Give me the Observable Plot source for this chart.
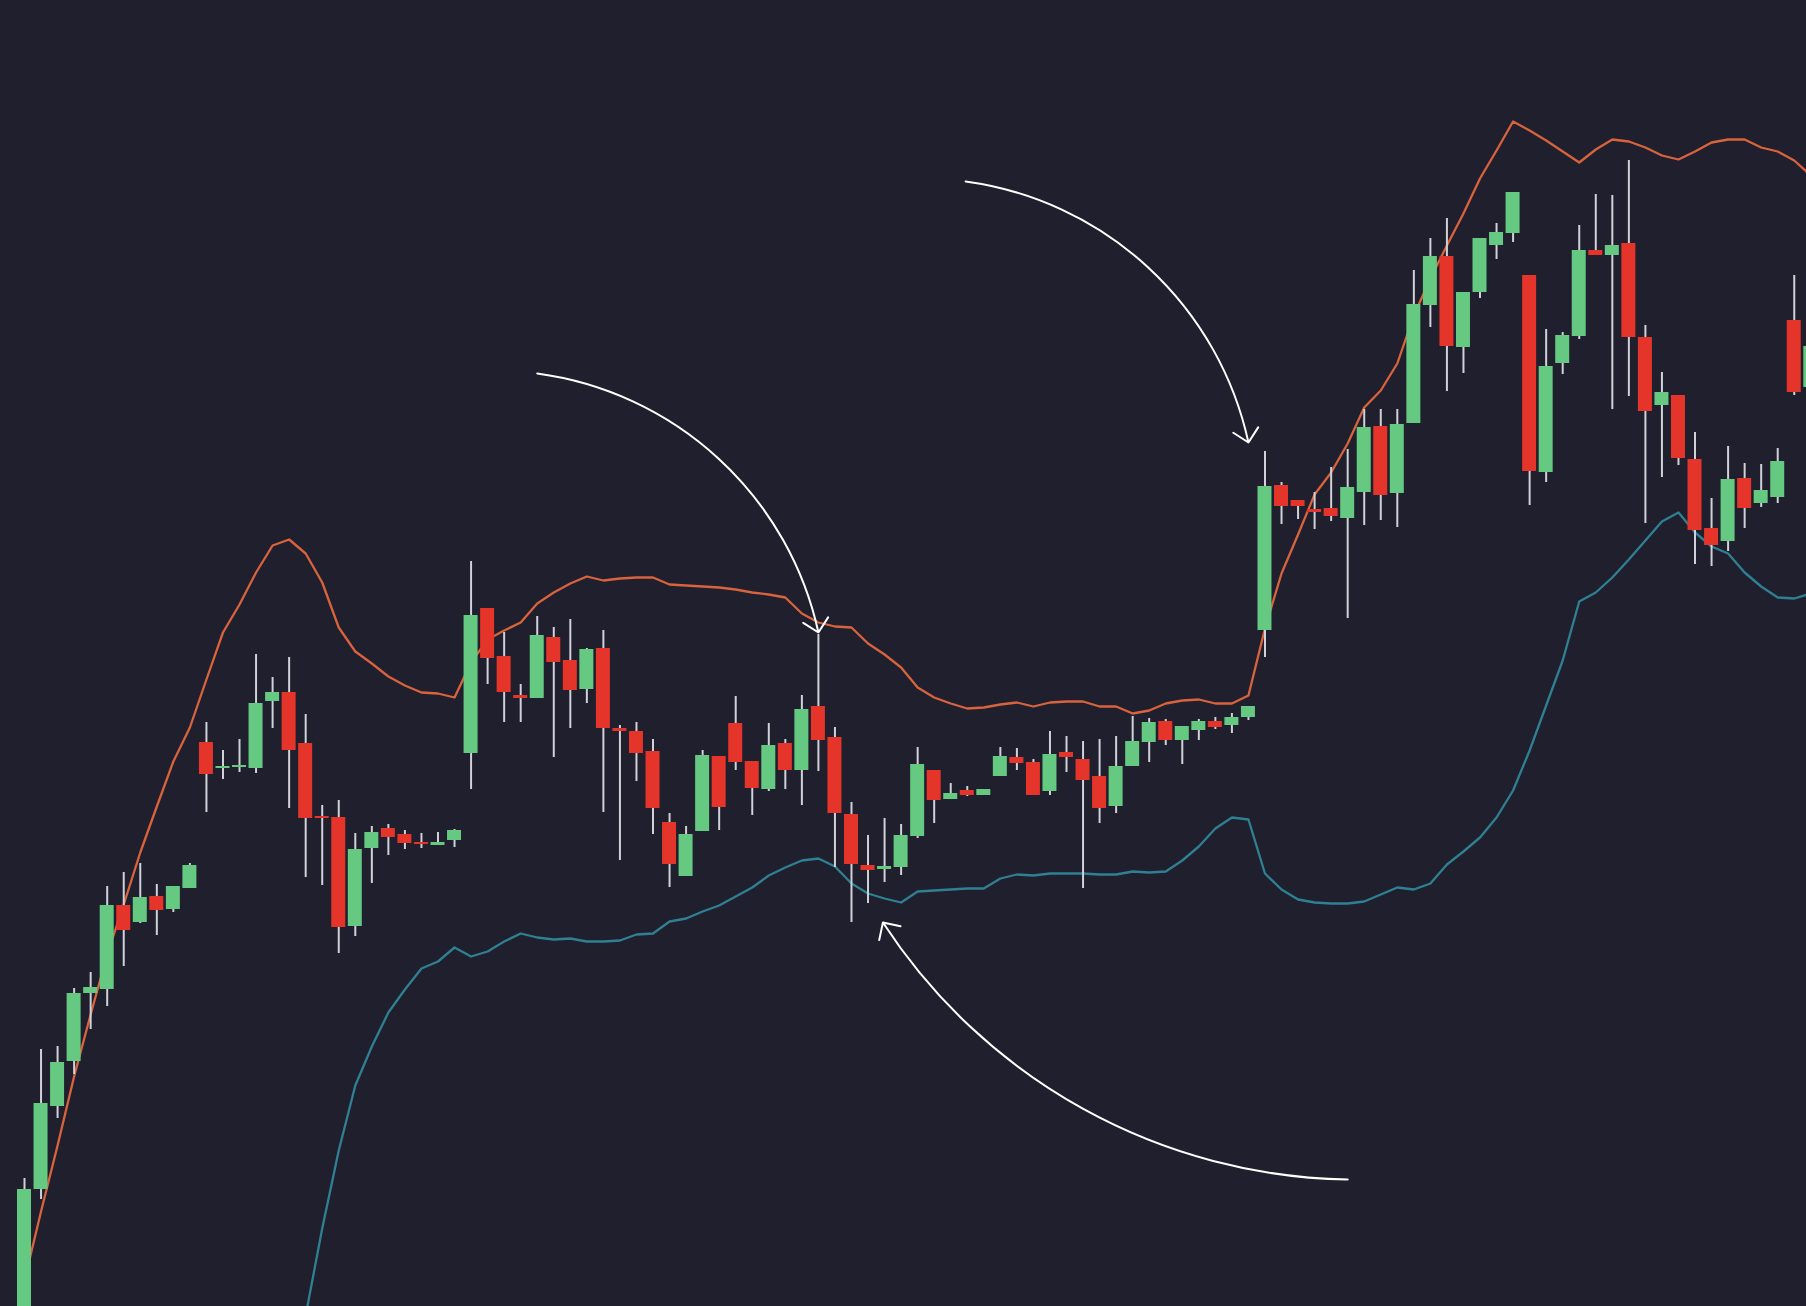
<!DOCTYPE html>
<html><head><meta charset="utf-8">
<script src="https://cdn.jsdelivr.net/npm/d3@7"></script>
<script src="https://cdn.jsdelivr.net/npm/@observablehq/plot@0.6"></script>
<style>html,body{margin:0;padding:0;background:#1f1f2d;overflow:hidden}#chart svg{display:block}</style>
</head><body><div id="chart"></div>
<script>
// Candle OHLC values (price units), one per period
const openP = [-1.0,11.7,20.0,24.5,31.3,31.7,40.1,38.4,41.0,39.7,41.8,56.4,53.8,53.9,53.8,60.5,61.4,56.3,49.0,48.9,
38.0,45.8,47.8,47.2,46.4,46.1,46.6,55.3,69.8,65.0,61.1,60.8,66.9,64.6,61.7,65.8,57.8,57.5,55.5,48.4,
43.0,47.5,55.0,58.3,54.5,51.7,56.3,53.6,60.0,56.9,49.2,44.1,43.7,43.9,47.0,53.6,50.7,51.6,51.1,53.0,
54.9,54.4,51.5,55.4,54.7,53.0,50.0,54.0,56.4,58.5,56.6,57.6,58.5,58.1,58.9,67.6,82.1,80.6,79.7,79.8,
78.8,81.4,88.0,81.3,88.3,100.1,105.0,95.9,101.4,106.1,107.3,103.1,83.4,94.3,97.0,105.6,105.1,106.3,96.9,90.1,
91.1,84.7,77.8,76.5,82.8,80.3,80.9,98.6,91.9];
const highP = [12.8,25.7,26.0,31.8,33.4,42.0,43.4,44.3,42.2,42.0,44.3,58.4,55.6,56.7,65.2,62.9,64.9,59.2,50.1,50.6,
47.3,48.0,48.2,47.6,47.3,47.4,47.7,74.5,69.8,67.4,62.2,69.0,67.9,68.7,65.8,67.6,58.1,58.4,56.7,49.3,
48.0,55.6,55.0,61.0,54.5,58.3,56.7,61.1,67.2,57.9,50.4,47.1,48.8,48.2,55.9,53.6,52.3,52.0,51.7,55.9,
55.8,54.7,57.5,57.0,56.5,56.7,57.0,59.0,58.8,58.7,58.0,58.7,58.9,59.3,60.0,85.5,82.4,80.6,81.4,83.9,
85.7,89.7,89.7,89.7,103.6,106.8,108.8,101.4,106.8,108.3,111.4,103.1,97.7,97.4,108.1,111.2,111.1,114.6,98.1,93.4,
91.1,87.4,80.8,86.0,84.3,84.2,85.8,103.1,96.5];
const lowP = [-2.0,10.7,18.8,23.2,27.7,30.0,34.0,38.3,37.1,39.4,41.8,49.4,52.7,53.4,53.3,57.8,49.8,42.9,42.1,35.3,
37.0,42.3,45.1,45.7,45.8,46.1,45.9,51.7,62.2,58.4,58.4,60.8,54.9,57.8,60.3,49.4,44.6,52.5,47.2,41.9,
43.0,47.5,47.6,53.6,49.1,51.5,51.7,50.1,53.5,43.9,38.4,40.3,42.4,43.1,46.8,48.3,50.7,51.0,51.1,53.0,
53.6,51.1,51.1,53.4,41.8,48.3,49.3,54.0,54.4,56.1,54.2,56.6,57.7,57.3,58.6,64.9,78.2,78.7,77.7,78.5,
68.8,78.1,78.6,77.9,88.3,97.9,91.5,93.3,100.8,104.7,106.4,80.1,82.4,93.2,96.7,105.1,89.7,91.0,78.3,82.9,
84.1,74.2,74.0,75.5,77.8,79.9,80.3,91.1,91.5];
const closeP = [11.7,20.3,24.4,31.3,31.9,40.1,37.6,40.9,39.6,42.0,44.1,53.2,54.0,54.1,60.3,61.4,55.6,48.8,48.8,37.9,
45.7,47.4,46.9,46.3,46.2,46.4,47.6,69.1,64.8,61.4,60.8,67.1,64.4,61.6,65.7,57.8,57.5,55.3,49.8,44.2,
47.2,55.1,49.9,54.4,51.8,56.1,53.6,59.7,56.6,49.3,44.2,43.6,44.0,47.1,54.2,50.6,51.3,51.1,51.7,55.0,
54.3,51.1,55.2,54.9,52.6,49.8,54.0,56.5,58.4,56.6,58.0,58.5,57.9,58.9,60.0,82.0,80.0,80.0,79.4,79.0,
81.9,87.9,81.1,88.2,100.2,105.0,96.0,101.4,106.8,107.4,111.4,83.5,94.0,97.1,105.6,105.1,106.1,96.9,89.5,91.4,
84.8,77.6,76.1,82.7,79.8,81.6,84.5,91.4,96.0];
// Bollinger bands
const upperBand = [2.6,9.5,16.1,23.0,29.2,35.2,40.2,45.4,50.0,54.5,57.9,62.7,67.4,70.2,73.4,76.1,76.7,75.3,72.4,67.9,
65.5,64.3,63.0,62.1,61.4,61.3,60.9,64.4,66.7,67.6,68.4,70.3,71.4,72.3,73.0,72.6,72.8,72.9,72.9,72.2,
72.1,72.0,71.9,71.7,71.4,71.2,70.9,69.3,68.4,68.0,67.9,66.3,65.2,63.9,61.9,60.9,60.3,59.8,59.9,60.2,
60.4,60.0,60.4,60.5,60.5,60.0,60.0,59.3,59.6,60.3,60.6,60.7,60.3,60.3,61.1,67.8,73.3,77.2,81.2,83.4,
86.3,89.9,91.6,94.3,99.1,102.8,106.1,109.3,112.8,115.6,118.5,117.6,116.6,115.5,114.4,115.7,116.7,116.5,115.9,115.1,
114.7,115.5,116.4,116.7,116.7,115.9,115.5,114.6,113.1];
const lowerBand = [null,null,null,null,null,null,null,null,null,null,null,null,null,null,null,null,null,-0.9,7.8,15.6,
22.1,26.0,29.4,31.7,33.8,34.5,35.9,35.0,35.5,36.5,37.3,36.9,36.7,36.8,36.5,36.5,36.6,37.2,37.3,38.5,
38.8,39.5,40.1,41.0,41.9,43.1,43.9,44.6,44.8,44.0,42.3,41.3,40.8,40.4,41.5,41.6,41.7,41.8,41.8,42.8,
43.2,43.1,43.3,43.3,43.3,43.2,43.2,43.5,43.4,43.5,44.6,46.0,47.8,48.9,48.7,43.3,41.7,40.7,40.4,40.3,
40.3,40.5,41.2,41.9,41.7,42.3,44.2,45.5,46.9,48.9,51.6,55.6,60.1,64.6,70.5,71.4,72.9,74.7,76.6,78.5,
79.4,77.4,76.0,75.3,73.4,72.0,70.9,70.8,71.3];
// Annotation arrows: [startIndex, startPrice] -> [endIndex, endPrice]
const arrowStart = [[31.0, 93.3], [56.9, 112.5], [80.0, 12.7]];
const arrowEnd   = [[48.0, 67.4], [74.0, 86.4], [51.9, 38.4]];

const candles = openP.map((o, i) => ({i, open: o, high: highP[i], low: lowP[i], close: closeP[i]}));
const bands = upperBand.map((u, i) => ({i, upper: u, lower: lowerBand[i]}));
const arrows = arrowStart.map((s, k) => ({x1: s[0], y1: s[1], x2: arrowEnd[k][0], y2: arrowEnd[k][1]}));
const bends = [35, 35, 28];

const BG = "#1f1f2d", GREEN = "#66c982", RED = "#e5352a", WICK = "#d0d1d9";
const half = 0.423;

const chart = Plot.plot({
  width: 1806, height: 1306, margin: 0,
  style: {background: BG},
  x: {domain: [-1.451, 107.74], axis: null},
  y: {domain: [0, 130.6], axis: null},
  marks: [
    Plot.lineY(bands, {x: "i", y: "upper", stroke: "#d8633d", strokeWidth: 2.3, clip: true}),
    Plot.lineY(bands, {x: "i", y: "lower", stroke: "#2f8092", strokeWidth: 2.3, clip: true}),
    Plot.ruleX(candles, {x: "i", y1: "low", y2: "high", stroke: WICK, strokeWidth: 2, clip: true}),
    Plot.rect(candles.filter(d => d.close >= d.open), {x1: d => d.i - half, x2: d => d.i + half, y1: "open", y2: "close", fill: GREEN, clip: true}),
    Plot.rect(candles.filter(d => d.close < d.open), {x1: d => d.i - half, x2: d => d.i + half, y1: "open", y2: "close", fill: RED, clip: true}),
    ...arrows.map((a, k) => Plot.arrow([a], {x1: "x1", y1: "y1", x2: "x2", y2: "y2", bend: bends[k], stroke: "white", strokeWidth: 2, headAngle: 90, headLength: 13.5}))
  ]
});
document.getElementById("chart").appendChild(chart);
</script>
</body></html>
